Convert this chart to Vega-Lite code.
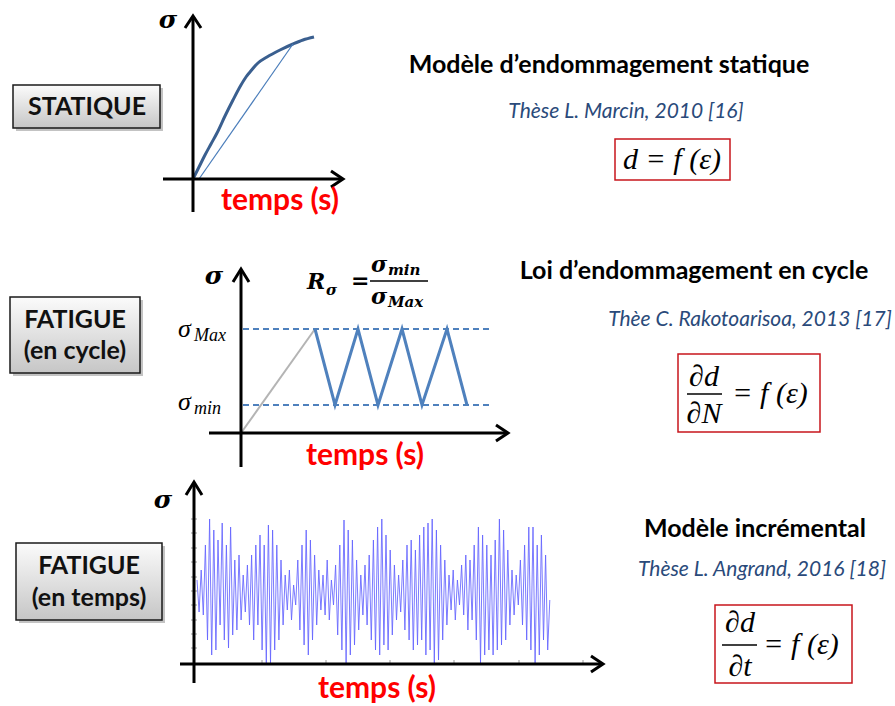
{
  "$schema": "https://vega.github.io/schema/vega-lite/v6.json",
  "width": 895,
  "height": 706,
  "autosize": {"type": "fit", "contains": "padding"},
  "padding": 0,
  "background": "white",
  "config": {"view": {"stroke": null}},
  "encoding": {
    "x": {"field": "x", "type": "quantitative", "scale": {"domain": [0, 895], "nice": false, "zero": false}, "axis": null},
    "y": {"field": "y", "type": "quantitative", "scale": {"domain": [0, 706], "reverse": true, "nice": false, "zero": false}, "axis": null}
  },
  "datasets": {
    "boxes": [
      {"x": 13, "y": 85, "x2": 160, "y2": 128},
      {"x": 10, "y": 297, "x2": 140, "y2": 373},
      {"x": 16, "y": 543, "x2": 162, "y2": 620}
    ],
    "boxText": [
      {"x": 87, "y": 107, "t": "STATIQUE"},
      {"x": 75, "y": 320, "t": "FATIGUE"},
      {"x": 75, "y": 351, "t": "(en cycle)"},
      {"x": 89, "y": 566, "t": "FATIGUE"},
      {"x": 89, "y": 598, "t": "(en temps)"}
    ],
    "fboxes": [
      {"x": 615, "y": 139, "x2": 730, "y2": 180},
      {"x": 678, "y": 354, "x2": 820, "y2": 432},
      {"x": 715, "y": 605, "x2": 852, "y2": 683}
    ],
    "axes": [
      {"x": 193, "y": 212, "x2": 193, "y2": 17},
      {"x": 163, "y": 179, "x2": 342, "y2": 179},
      {"x": 241, "y": 467, "x2": 241, "y2": 270},
      {"x": 209, "y": 433, "x2": 507, "y2": 433},
      {"x": 194, "y": 683, "x2": 194, "y2": 483},
      {"x": 180, "y": 664, "x2": 602, "y2": 664}
    ],
    "arrows": [
      {"id": "a1", "o": 0, "x": 185, "y": 28}, {"id": "a1", "o": 1, "x": 193, "y": 16}, {"id": "a1", "o": 2, "x": 201, "y": 28},
      {"id": "a2", "o": 0, "x": 331, "y": 171}, {"id": "a2", "o": 1, "x": 343, "y": 179}, {"id": "a2", "o": 2, "x": 331, "y": 187},
      {"id": "a3", "o": 0, "x": 233, "y": 282}, {"id": "a3", "o": 1, "x": 241, "y": 269}, {"id": "a3", "o": 2, "x": 249, "y": 282},
      {"id": "a4", "o": 0, "x": 496, "y": 425}, {"id": "a4", "o": 1, "x": 508, "y": 433}, {"id": "a4", "o": 2, "x": 496, "y": 441},
      {"id": "a5", "o": 0, "x": 186, "y": 495}, {"id": "a5", "o": 1, "x": 194, "y": 482}, {"id": "a5", "o": 2, "x": 202, "y": 495},
      {"id": "a6", "o": 0, "x": 591, "y": 656}, {"id": "a6", "o": 1, "x": 603, "y": 664}, {"id": "a6", "o": 2, "x": 591, "y": 672}
    ],
    "ticks": [
      {"x": 191, "y": 519, "x2": 197, "y2": 519}, {"x": 191, "y": 533, "x2": 197, "y2": 533},
      {"x": 191, "y": 548, "x2": 197, "y2": 548}, {"x": 191, "y": 562, "x2": 197, "y2": 562},
      {"x": 191, "y": 577, "x2": 197, "y2": 577}, {"x": 191, "y": 591, "x2": 197, "y2": 591},
      {"x": 191, "y": 605, "x2": 197, "y2": 605}, {"x": 191, "y": 620, "x2": 197, "y2": 620},
      {"x": 191, "y": 634, "x2": 197, "y2": 634}, {"x": 191, "y": 648, "x2": 197, "y2": 648},
      {"x": 262, "y": 660, "x2": 262, "y2": 664}, {"x": 326, "y": 660, "x2": 326, "y2": 664},
      {"x": 390, "y": 660, "x2": 390, "y2": 664}, {"x": 454, "y": 660, "x2": 454, "y2": 664},
      {"x": 519, "y": 660, "x2": 519, "y2": 664}, {"x": 583, "y": 660, "x2": 583, "y2": 664}
    ],
    "curve": [
      {"x": 193, "y": 179}, {"x": 199, "y": 167}, {"x": 205, "y": 155}, {"x": 211, "y": 144},
      {"x": 217, "y": 133}, {"x": 225, "y": 116}, {"x": 233, "y": 100}, {"x": 241, "y": 85},
      {"x": 246, "y": 77}, {"x": 250, "y": 72}, {"x": 258, "y": 63}, {"x": 267, "y": 57},
      {"x": 280, "y": 50}, {"x": 293, "y": 44}, {"x": 303, "y": 40}, {"x": 314, "y": 37}
    ],
    "chord": [{"x": 199, "y": 179}, {"x": 293, "y": 44}],
    "ramp": [{"x": 241, "y": 433}, {"x": 315, "y": 329}],
    "zigzag": [
      {"x": 315, "y": 329}, {"x": 335, "y": 405}, {"x": 358, "y": 329}, {"x": 378, "y": 405},
      {"x": 402, "y": 329}, {"x": 422, "y": 405}, {"x": 447, "y": 329}, {"x": 467, "y": 405}
    ],
    "dashes": [
      {"x": 243, "y": 329, "x2": 493},
      {"x": 243, "y": 405, "x2": 493}
    ],
    "signal": [
      {"x": 197, "y": 580}, {"x": 199.1, "y": 612}, {"x": 201.2, "y": 570}, {"x": 203.3, "y": 615}, {"x": 205.4, "y": 545}, {"x": 207.5, "y": 640}, {"x": 209.6, "y": 519}, {"x": 211.7, "y": 655}, {"x": 213.8, "y": 530}, {"x": 215.9, "y": 650},
      {"x": 218, "y": 540}, {"x": 220.1, "y": 625}, {"x": 222.2, "y": 523}, {"x": 224.3, "y": 640}, {"x": 226.4, "y": 545}, {"x": 228.5, "y": 648}, {"x": 230.6, "y": 527}, {"x": 232.7, "y": 635}, {"x": 234.8, "y": 560}, {"x": 236.9, "y": 630},
      {"x": 239, "y": 555}, {"x": 241.1, "y": 620}, {"x": 243.2, "y": 575}, {"x": 245.3, "y": 612}, {"x": 247.4, "y": 565}, {"x": 249.5, "y": 625}, {"x": 251.6, "y": 555}, {"x": 253.7, "y": 640}, {"x": 255.8, "y": 545}, {"x": 257.9, "y": 625},
      {"x": 260, "y": 535}, {"x": 262.1, "y": 650}, {"x": 264.2, "y": 545}, {"x": 266.3, "y": 663}, {"x": 268.4, "y": 525}, {"x": 270.5, "y": 663}, {"x": 272.6, "y": 530}, {"x": 274.7, "y": 650}, {"x": 276.8, "y": 545}, {"x": 278.9, "y": 640},
      {"x": 281, "y": 560}, {"x": 283.1, "y": 625}, {"x": 285.2, "y": 575}, {"x": 287.3, "y": 610}, {"x": 289.4, "y": 570}, {"x": 291.5, "y": 620}, {"x": 293.6, "y": 585}, {"x": 295.7, "y": 605}, {"x": 297.8, "y": 560}, {"x": 299.9, "y": 630},
      {"x": 302, "y": 545}, {"x": 304.1, "y": 645}, {"x": 306.2, "y": 530}, {"x": 308.3, "y": 655}, {"x": 310.4, "y": 540}, {"x": 312.5, "y": 640}, {"x": 314.6, "y": 555}, {"x": 316.7, "y": 625}, {"x": 318.8, "y": 570}, {"x": 320.9, "y": 610},
      {"x": 323, "y": 575}, {"x": 325.1, "y": 615}, {"x": 327.2, "y": 560}, {"x": 329.3, "y": 620}, {"x": 331.4, "y": 580}, {"x": 333.5, "y": 605}, {"x": 335.6, "y": 565}, {"x": 337.7, "y": 635}, {"x": 339.8, "y": 545}, {"x": 341.9, "y": 650},
      {"x": 344, "y": 520}, {"x": 346.1, "y": 663}, {"x": 348.2, "y": 530}, {"x": 350.3, "y": 655}, {"x": 352.4, "y": 540}, {"x": 354.5, "y": 645}, {"x": 356.6, "y": 560}, {"x": 358.7, "y": 630}, {"x": 360.8, "y": 575}, {"x": 362.9, "y": 615},
      {"x": 365, "y": 565}, {"x": 367.1, "y": 625}, {"x": 369.2, "y": 555}, {"x": 371.3, "y": 640}, {"x": 373.4, "y": 540}, {"x": 375.5, "y": 650}, {"x": 377.6, "y": 527}, {"x": 379.7, "y": 655}, {"x": 381.8, "y": 519}, {"x": 383.9, "y": 645},
      {"x": 386, "y": 535}, {"x": 388.1, "y": 650}, {"x": 390.2, "y": 550}, {"x": 392.3, "y": 635}, {"x": 394.4, "y": 565}, {"x": 396.5, "y": 620}, {"x": 398.6, "y": 575}, {"x": 400.7, "y": 612}, {"x": 402.8, "y": 560}, {"x": 404.9, "y": 630},
      {"x": 407, "y": 545}, {"x": 409.1, "y": 640}, {"x": 411.2, "y": 540}, {"x": 413.3, "y": 650}, {"x": 415.4, "y": 550}, {"x": 417.5, "y": 645}, {"x": 419.6, "y": 535}, {"x": 421.7, "y": 640}, {"x": 423.8, "y": 527}, {"x": 425.9, "y": 655},
      {"x": 428, "y": 523}, {"x": 430.1, "y": 650}, {"x": 432.2, "y": 519}, {"x": 434.3, "y": 663}, {"x": 436.4, "y": 530}, {"x": 438.5, "y": 660}, {"x": 440.6, "y": 545}, {"x": 442.7, "y": 640}, {"x": 444.8, "y": 560}, {"x": 446.9, "y": 625},
      {"x": 449, "y": 575}, {"x": 451.1, "y": 610}, {"x": 453.2, "y": 570}, {"x": 455.3, "y": 620}, {"x": 457.4, "y": 580}, {"x": 459.5, "y": 605}, {"x": 461.6, "y": 565}, {"x": 463.7, "y": 615}, {"x": 465.8, "y": 555}, {"x": 467.9, "y": 630},
      {"x": 470, "y": 560}, {"x": 472.1, "y": 620}, {"x": 474.2, "y": 545}, {"x": 476.3, "y": 640}, {"x": 478.4, "y": 527}, {"x": 480.5, "y": 663}, {"x": 482.6, "y": 535}, {"x": 484.7, "y": 655}, {"x": 486.8, "y": 545}, {"x": 488.9, "y": 650},
      {"x": 491, "y": 555}, {"x": 493.1, "y": 655}, {"x": 495.2, "y": 540}, {"x": 497.3, "y": 650}, {"x": 499.4, "y": 519}, {"x": 501.5, "y": 645}, {"x": 503.6, "y": 530}, {"x": 505.7, "y": 640}, {"x": 507.8, "y": 550}, {"x": 509.9, "y": 625},
      {"x": 512, "y": 570}, {"x": 514.1, "y": 615}, {"x": 516.2, "y": 575}, {"x": 518.3, "y": 605}, {"x": 520.4, "y": 560}, {"x": 522.5, "y": 625}, {"x": 524.6, "y": 545}, {"x": 526.7, "y": 640}, {"x": 528.8, "y": 527}, {"x": 530.9, "y": 650},
      {"x": 533, "y": 527}, {"x": 535.1, "y": 663}, {"x": 537.2, "y": 545}, {"x": 539.3, "y": 655}, {"x": 541.4, "y": 535}, {"x": 543.5, "y": 640}, {"x": 545.6, "y": 555}, {"x": 547.7, "y": 650}, {"x": 549.8, "y": 600}
    ],
    "temps": [
      {"x": 280, "y": 201, "t": "temps (s)"},
      {"x": 365, "y": 456, "t": "temps (s)"},
      {"x": 377, "y": 689, "t": "temps (s)"}
    ],
    "sigmaAxis": [
      {"x": 168, "y": 20, "t": "σ"},
      {"x": 214, "y": 276, "t": "σ"},
      {"x": 163, "y": 500, "t": "σ"}
    ],
    "titles": [
      {"x": 609, "y": 65, "t": "Modèle d’endommagement  statique"},
      {"x": 694, "y": 271, "t": "Loi d’endommagement  en cycle"},
      {"x": 755, "y": 529, "t": "Modèle incrémental"}
    ],
    "refs": [
      {"x": 626, "y": 112, "t": "Thèse L. Marcin, 2010 [16]"},
      {"x": 750, "y": 320, "t": "Thèe C. Rakotoarisoa, 2013 [17]"},
      {"x": 762, "y": 570, "t": "Thèse L. Angrand, 2016 [18]"}
    ],
    "formula": [
      {"x": 672, "y": 160, "t": "d = f (ε)"},
      {"x": 704, "y": 377, "t": "∂d"},
      {"x": 704, "y": 414, "t": "∂N"},
      {"x": 770, "y": 394, "t": "= f (ε)"},
      {"x": 740, "y": 623, "t": "∂d"},
      {"x": 740, "y": 667, "t": "∂t"},
      {"x": 801, "y": 645, "t": "= f (ε)"}
    ],
    "fracLines": [
      {"x": 687, "y": 394, "x2": 722},
      {"x": 722, "y": 645, "x2": 757},
      {"x": 370, "y": 281, "x2": 428}
    ],
    "mathBig": [
      {"x": 178, "y": 329, "t": "σ"},
      {"x": 178, "y": 402, "t": "σ"}
    ],
    "mathSub": [
      {"x": 194, "y": 336, "t": "Max"},
      {"x": 194, "y": 409, "t": "min"}
    ],
    "rBig": [
      {"x": 307, "y": 282, "t": "R"},
      {"x": 351, "y": 281, "t": "="},
      {"x": 371, "y": 265, "t": "σ"},
      {"x": 371, "y": 297, "t": "σ"}
    ],
    "rSub": [
      {"x": 326, "y": 290, "t": "σ"},
      {"x": 388, "y": 270, "t": "min"},
      {"x": 388, "y": 302, "t": "Max"}
    ]
  },
  "layer": [
    {
      "data": {"name": "boxes"},
      "mark": {"type": "rect", "fill": "#7a7a7a", "opacity": 0.45, "xOffset": 3, "x2Offset": 3, "yOffset": 3, "y2Offset": 3},
      "encoding": {"x2": {"field": "x2"}, "y2": {"field": "y2"}}
    },
    {
      "data": {"name": "boxes"},
      "mark": {"type": "rect", "stroke": "#1a1a1a", "strokeWidth": 1.5,
        "fill": {"gradient": "linear", "x1": 0, "y1": 0, "x2": 0, "y2": 1,
          "stops": [{"offset": 0, "color": "#fbfbfb"}, {"offset": 1, "color": "#c6c6c6"}]}},
      "encoding": {"x2": {"field": "x2"}, "y2": {"field": "y2"}}
    },
    {
      "data": {"name": "boxText"},
      "mark": {"type": "text", "font": "Lato", "fontWeight": "bold", "fontSize": 25, "color": "#111111"},
      "encoding": {"text": {"field": "t"}}
    },
    {
      "data": {"name": "fboxes"},
      "mark": {"type": "rect", "fill": "white", "stroke": "#C8161D", "strokeWidth": 1.5},
      "encoding": {"x2": {"field": "x2"}, "y2": {"field": "y2"}}
    },
    {
      "data": {"name": "ticks"},
      "mark": {"type": "rule", "color": "#9a9a9a", "strokeWidth": 1},
      "encoding": {"x2": {"field": "x2"}, "y2": {"field": "y2"}}
    },
    {
      "data": {"name": "curve"},
      "mark": {"type": "line", "color": "#3A5F8F", "strokeWidth": 3, "interpolate": "monotone"},
      "encoding": {}
    },
    {
      "data": {"name": "chord"},
      "mark": {"type": "line", "color": "#4A7DBA", "strokeWidth": 1.2},
      "encoding": {}
    },
    {
      "data": {"name": "ramp"},
      "mark": {"type": "line", "color": "#B4B4B4", "strokeWidth": 2},
      "encoding": {}
    },
    {
      "data": {"name": "dashes"},
      "mark": {"type": "rule", "color": "#4F81BD", "strokeWidth": 1.8, "strokeDash": [6, 4]},
      "encoding": {"x2": {"field": "x2"}}
    },
    {
      "data": {"name": "zigzag"},
      "mark": {"type": "line", "color": "#4F81BD", "strokeWidth": 3},
      "encoding": {}
    },
    {
      "data": {"name": "signal"},
      "mark": {"type": "line", "color": "#6464FF", "strokeWidth": 1, "opacity": 0.85},
      "encoding": {}
    },
    {
      "data": {"name": "axes"},
      "mark": {"type": "rule", "color": "#000000", "strokeWidth": 3},
      "encoding": {"x2": {"field": "x2"}, "y2": {"field": "y2"}}
    },
    {
      "data": {"name": "arrows"},
      "mark": {"type": "line", "color": "#000000", "strokeWidth": 3, "strokeJoin": "miter"},
      "encoding": {"detail": {"field": "id"}, "order": {"field": "o"}}
    },
    {
      "data": {"name": "temps"},
      "mark": {"type": "text", "font": "Lato", "fontWeight": "bold", "fontSize": 30, "color": "#FF0000"},
      "encoding": {"text": {"field": "t"}}
    },
    {
      "data": {"name": "sigmaAxis"},
      "mark": {"type": "text", "font": "DejaVu Serif", "fontWeight": "bold", "fontStyle": "italic", "fontSize": 25, "color": "#000000"},
      "encoding": {"text": {"field": "t"}}
    },
    {
      "data": {"name": "titles"},
      "mark": {"type": "text", "font": "Lato", "fontWeight": "bold", "fontSize": 25, "color": "#000000"},
      "encoding": {"text": {"field": "t"}}
    },
    {
      "data": {"name": "refs"},
      "mark": {"type": "text", "font": "Lato", "fontStyle": "italic", "fontSize": 21, "color": "#2A4A7A"},
      "encoding": {"text": {"field": "t"}}
    },
    {
      "data": {"name": "formula"},
      "mark": {"type": "text", "font": "Liberation Serif", "fontStyle": "italic", "fontSize": 30, "color": "#000000"},
      "encoding": {"text": {"field": "t"}}
    },
    {
      "data": {"name": "fracLines"},
      "mark": {"type": "rule", "color": "#000000", "strokeWidth": 1.3},
      "encoding": {"x2": {"field": "x2"}}
    },
    {
      "data": {"name": "mathBig"},
      "mark": {"type": "text", "font": "Liberation Serif", "fontStyle": "italic", "fontSize": 26, "align": "left", "color": "#000000"},
      "encoding": {"text": {"field": "t"}}
    },
    {
      "data": {"name": "mathSub"},
      "mark": {"type": "text", "font": "Liberation Serif", "fontStyle": "italic", "fontSize": 18, "align": "left", "color": "#000000"},
      "encoding": {"text": {"field": "t"}}
    },
    {
      "data": {"name": "rBig"},
      "mark": {"type": "text", "font": "DejaVu Serif", "fontStyle": "italic", "fontWeight": "bold", "fontSize": 22, "align": "left", "color": "#000000"},
      "encoding": {"text": {"field": "t"}}
    },
    {
      "data": {"name": "rSub"},
      "mark": {"type": "text", "font": "DejaVu Serif", "fontStyle": "italic", "fontWeight": "bold", "fontSize": 15, "align": "left", "color": "#000000"},
      "encoding": {"text": {"field": "t"}}
    }
  ]
}
